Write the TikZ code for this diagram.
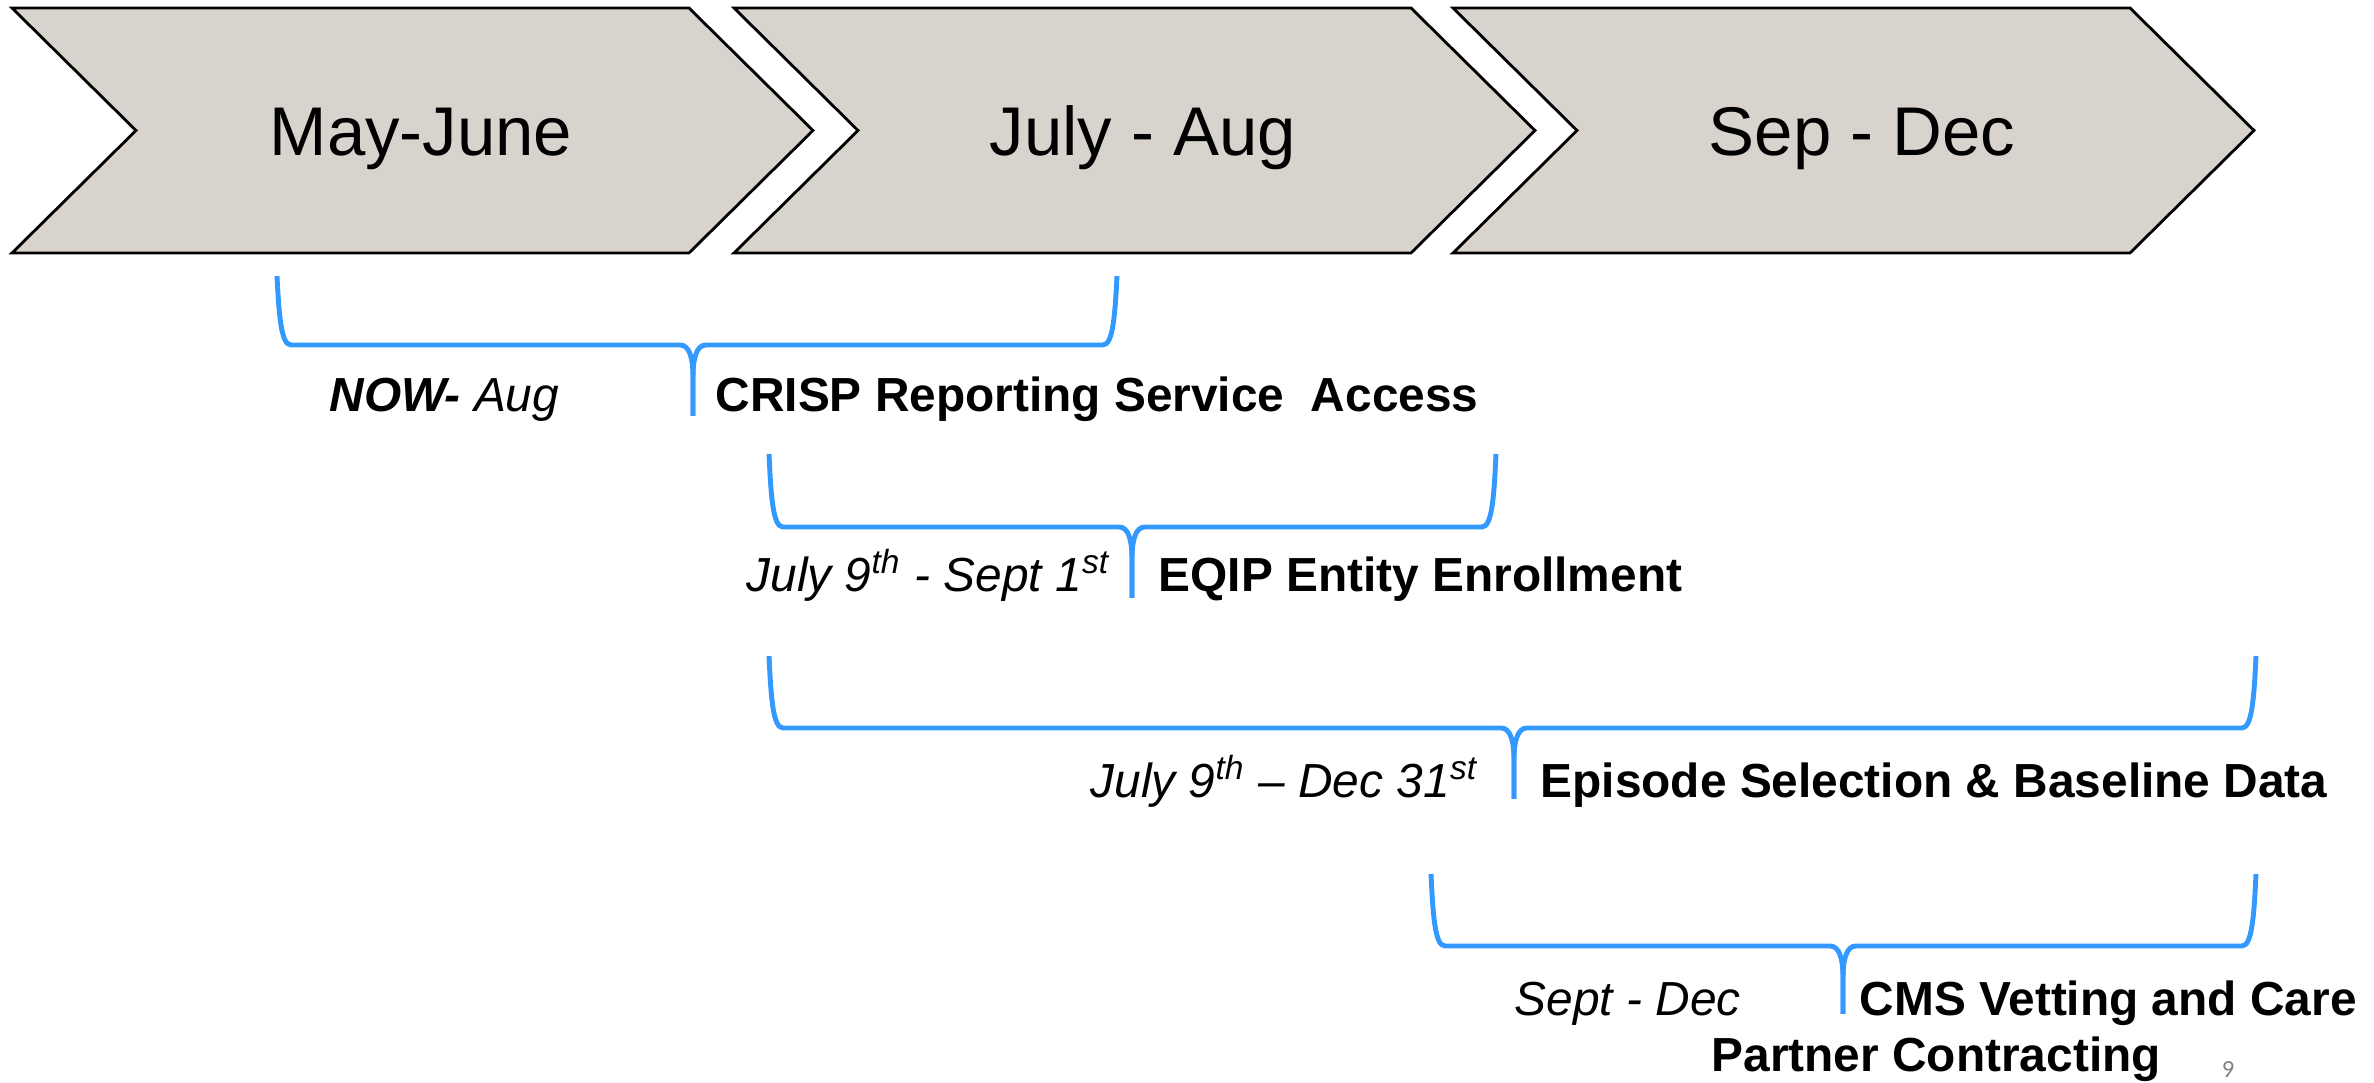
\documentclass[tikz,border=0pt]{standalone}
\usepackage{fontspec}
\setmainfont{Liberation Sans}
\newfontfamily\pagenofont{Carlito}
\usetikzlibrary{positioning}
\definecolor{chevgray}{RGB}{217,211,205}
\definecolor{braceblue}{RGB}{51,153,255}
\tikzset{
	chevron/.style={draw=black, line width=0.8pt, fill=chevgray, line join=miter},
	brace/.style={draw=braceblue, line width=1.4pt},
	month/.style={inner sep=0pt, anchor=base, font=\fontsize{19.6}{23}\selectfont},
	period/.style={inner sep=0pt, anchor=base west, font=\fontsize{13.6}{16}\selectfont\itshape},
	task/.style={inner sep=0pt, anchor=base west, font=\fontsize{13.6}{16}\selectfont\bfseries},
}

\begin{document}
\begin{tikzpicture}[x=0.01cm, y=-0.01cm]
	\useasboundingbox (0,0) rectangle (2374,1083);

	% chevrons
	\foreach \x / \lbl [count=\i] in {12/May-June, 734/July - Aug, 1453/Sep - Dec}
	{
		\draw[chevron] (\x,8) -- (\x+677,8) -- (\x+801,130.5) -- (\x+677,253) -- (\x,253) -- (\x+124,130.5) -- cycle;
		\node[month] (chev\i) at (\x+409,156) {\lbl};
	};

	% braces
	\foreach \lx / \rx / \ty / \hy / \mx / \by [count=\i] in {
	277/1117/276/345/693/416,
	769/1496/454/527/1132/598,
	769/2256/656/728/1514/799,
	1431/2256/874/946/1843/1014}
	{
		\coordinate (tip\i) at (\mx,\by);
		\draw[brace] (\lx,\ty) .. controls (\lx+2,\hy-30) and (\lx+4,\hy) .. (\lx+14,\hy) -- (\mx-13,\hy) .. controls (\mx-4,\hy) and (\mx,\hy+12) .. (\mx,\hy+32) -- (tip\i);
		\draw[brace] (\rx,\ty) .. controls (\rx-2,\hy-30) and (\rx-4,\hy) .. (\rx-14,\hy) -- (\mx+13,\hy) .. controls (\mx+4,\hy) and (\mx,\hy+12) .. (\mx,\hy+32) -- (tip\i);
	};

	\node[period] (now) at (329,412) {\textbf{NOW-} Aug};
	\node[task] (crisp) at (715,412) {CRISP Reporting Service\ \ Access};

	\node[period] (july1) at (746,592) {July 9\textsuperscript{th} - Sept 1\textsuperscript{st}};
	\node[task] (eqip) at (1158,592) {EQIP Entity Enrollment};

	\node[period] (july2) at (1090,798) {July 9\textsuperscript{th} -- Dec 31\textsuperscript{st}};
	\node[task] (episode) at (1540,798) {Episode Selection \& Baseline Data};

	\node[period] (sept) at (1514,1016) {Sept - Dec};
	\node[task] (cms) at (1859,1016) {CMS Vetting and Care};
	\node[task] (partner) at (1711,1072) {Partner Contracting};

	\node[inner sep=0pt, anchor=base, text=gray, font=\pagenofont\fontsize{7}{8}\selectfont] (pageno) at (2228,1078) {9};
\end{tikzpicture}
\end{document}
